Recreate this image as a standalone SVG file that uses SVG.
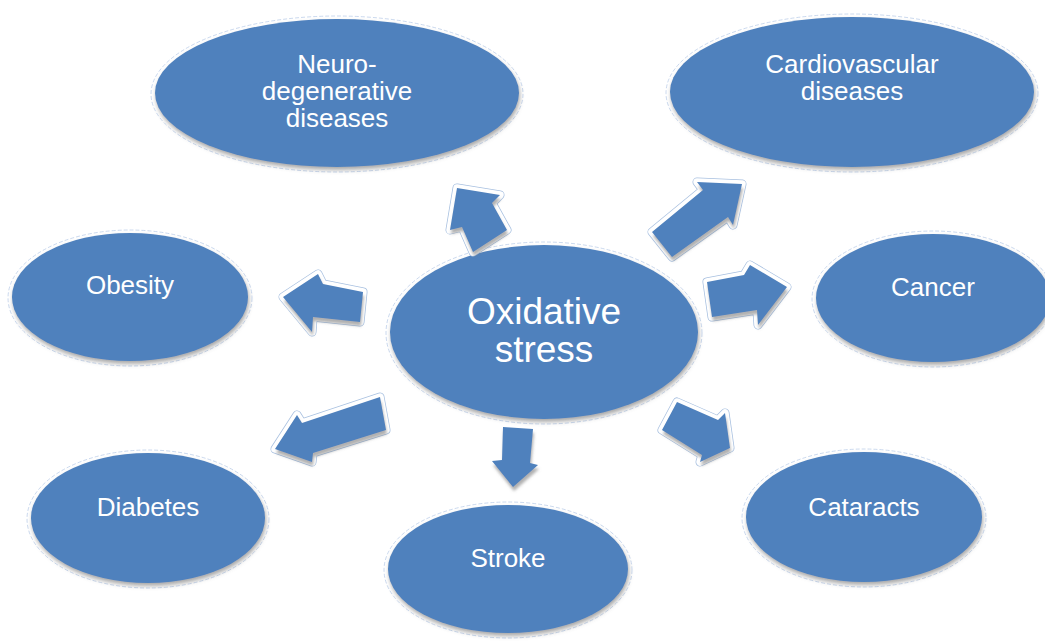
<svg xmlns="http://www.w3.org/2000/svg" width="1045" height="643" viewBox="0 0 1045 643">
<defs>
<filter id="shadow" x="-20%" y="-20%" width="140%" height="150%">
<feGaussianBlur in="SourceAlpha" stdDeviation="2"/>
<feOffset dx="1" dy="3" result="b"/>
<feFlood flood-color="#606060" flood-opacity="0.55"/>
<feComposite in2="b" operator="in"/>
<feMerge><feMergeNode/><feMergeNode in="SourceGraphic"/></feMerge>
</filter>
<filter id="ashadow" x="-30%" y="-30%" width="160%" height="160%">
<feGaussianBlur in="SourceAlpha" stdDeviation="1.5"/>
<feOffset dx="1" dy="4" result="b"/>
<feFlood flood-color="#707070" flood-opacity="0.55"/>
<feComposite in2="b" operator="in"/>
<feMerge><feMergeNode/><feMergeNode in="SourceGraphic"/></feMerge>
</filter>
</defs>
<style>
.halo{fill:#ffffff;stroke:#b4c8e6;stroke-width:0.7;stroke-dasharray:4 2}
.node{fill:#4f81bd;filter:url(#shadow)}
.lbl{font-family:"Liberation Sans",Arial,sans-serif;font-size:26px;fill:#ffffff;text-anchor:middle}
.big{font-size:37px}
.aglow{fill:#ffffff;stroke:#a8c0e0;stroke-width:9;stroke-linejoin:round}
.aglow2{fill:#ffffff;stroke:#ffffff;stroke-width:7.5;stroke-linejoin:round}
.arrow{fill:#4f81bd;filter:url(#ashadow)}
</style>
<rect width="1045" height="643" fill="#ffffff"/>

<g id="node-neuro">
<ellipse class="halo" cx="337" cy="94" rx="186" ry="78"/>
<ellipse class="node" cx="337" cy="93" rx="182" ry="74"/>
<text class="lbl" x="337" y="73">Neuro-</text>
<text class="lbl" x="337" y="100">degenerative</text>
<text class="lbl" x="337" y="127">diseases</text>
</g>
<g id="node-cardio">
<ellipse class="halo" cx="852" cy="93" rx="186" ry="79"/>
<ellipse class="node" cx="852" cy="92" rx="182" ry="75"/>
<text class="lbl" x="852" y="73">Cardiovascular</text>
<text class="lbl" x="852" y="100">diseases</text>
</g>
<g id="node-obesity">
<ellipse class="halo" cx="130" cy="298" rx="122" ry="68"/>
<ellipse class="node" cx="130" cy="297" rx="118" ry="64"/>
<text class="lbl" x="130" y="294">Obesity</text>
</g>
<g id="node-cancer">
<ellipse class="halo" cx="933" cy="299" rx="121" ry="68"/>
<ellipse class="node" cx="933" cy="298" rx="117" ry="64"/>
<text class="lbl" x="933" y="296">Cancer</text>
</g>
<g id="node-oxidative">
<ellipse class="halo" cx="544" cy="333" rx="158" ry="91"/>
<ellipse class="node" cx="544" cy="332" rx="154" ry="87"/>
<text class="lbl big" x="544" y="324">Oxidative</text>
<text class="lbl big" x="544" y="362">stress</text>
</g>
<g id="node-diabetes">
<ellipse class="halo" cx="148" cy="519" rx="121" ry="69"/>
<ellipse class="node" cx="148" cy="518" rx="117" ry="65"/>
<text class="lbl" x="148" y="516">Diabetes</text>
</g>
<g id="node-stroke">
<ellipse class="halo" cx="508" cy="570" rx="124" ry="68"/>
<ellipse class="node" cx="508" cy="569" rx="120" ry="64"/>
<text class="lbl" x="508" y="567">Stroke</text>
</g>
<g id="node-cataracts">
<ellipse class="halo" cx="864" cy="518" rx="122" ry="69"/>
<ellipse class="node" cx="864" cy="517" rx="118" ry="65"/>
<text class="lbl" x="864" y="516">Cataracts</text>
</g>

<g id="connectors">
<g id="arrow-neuro">
<polygon class="aglow" points="457,188 500,195 492,203 507,230 473,252 462,227 450,230"/>
<polygon class="aglow2" points="457,188 500,195 492,203 507,230 473,252 462,227 450,230"/>
<polygon class="arrow" points="457,188 500,195 492,203 507,230 473,252 462,227 450,230"/>
</g>
<g id="arrow-cardio">
<polygon class="aglow" points="742,184 697,182 703,190 652,232 672,257 728,217 733,225"/>
<polygon class="aglow2" points="742,184 697,182 703,190 652,232 672,257 728,217 733,225"/>
<polygon class="arrow" points="742,184 697,182 703,190 652,232 672,257 728,217 733,225"/>
</g>
<g id="arrow-obesity">
<polygon class="aglow" points="283,297 318,274 323,284 363,292 360,322 313,317 312,332"/>
<polygon class="aglow2" points="283,297 318,274 323,284 363,292 360,322 313,317 312,332"/>
<polygon class="arrow" points="283,297 318,274 323,284 363,292 360,322 313,317 312,332"/>
</g>
<g id="arrow-cancer">
<polygon class="aglow" points="707,282 744,275 750,265 787,287 758,325 757,310 712,317"/>
<polygon class="aglow2" points="707,282 744,275 750,265 787,287 758,325 757,310 712,317"/>
<polygon class="arrow" points="707,282 744,275 750,265 787,287 758,325 757,310 712,317"/>
</g>
<g id="arrow-diabetes">
<polygon class="aglow" points="275,449 297,415 302,423 380,397 386,430 313,453 312,462"/>
<polygon class="aglow2" points="275,449 297,415 302,423 380,397 386,430 313,453 312,462"/>
<polygon class="arrow" points="275,449 297,415 302,423 380,397 386,430 313,453 312,462"/>
</g>
<g id="arrow-stroke">
<polygon class="arrow" points="503,427 533,429 530,463 538,465 513,487 492,461 502,460"/>
</g>
<g id="arrow-cataracts">
<polygon class="aglow" points="677,402 718,420 725,413 730,448 700,462 702,455 662,430"/>
<polygon class="aglow2" points="677,402 718,420 725,413 730,448 700,462 702,455 662,430"/>
<polygon class="arrow" points="677,402 718,420 725,413 730,448 700,462 702,455 662,430"/>
</g>
</g>
</svg>
